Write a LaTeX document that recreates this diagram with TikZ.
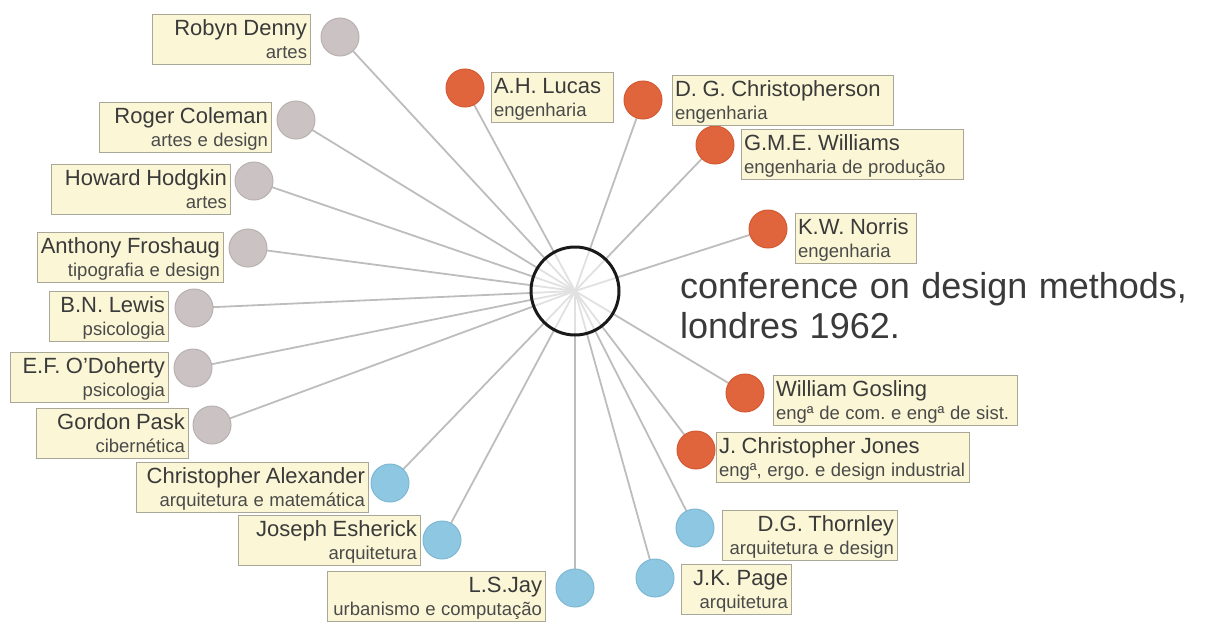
\documentclass[tikz,border=0pt]{standalone}
\usepackage{fontspec}
\setmainfont{Liberation Sans}[WordSpace=1.15]
\usetikzlibrary{backgrounds}

\definecolor{ink}{HTML}{3A3A3A}
\definecolor{subink}{HTML}{4A4A4A}
\definecolor{boxfill}{HTML}{FBF7D6}
\definecolor{boxedge}{HTML}{A9A797}
\definecolor{spokegray}{HTML}{BDBDBD}
\definecolor{artsgray}{HTML}{CBC3C3}
\definecolor{artsedge}{HTML}{B9B1B1}
\definecolor{archblue}{HTML}{8EC7E1}
\definecolor{archedge}{HTML}{7FB8D3}
\definecolor{engorange}{HTML}{E0653D}
\definecolor{engedge}{HTML}{D45A33}

% name on the first line, field of work below it (rigid word spaces, no breaks)
\newcommand\who[2]{\spaceskip=.3em\xspaceskip=.3em\frenchspacing
  \mbox{\fontsize{22}{23}\selectfont #1}\\\mbox{\color{subink}#2}}

\tikzset{
  persondot/.style={circle, minimum size=38pt, inner sep=0pt, line width=1pt},
  arts/.style={persondot, fill=artsgray, draw=artsedge},
  arch/.style={persondot, fill=archblue, draw=archedge},
  eng/.style={persondot, fill=engorange, draw=engedge},
  namebox/.style={draw=boxedge, fill=boxfill, line width=0.9pt, inner xsep=3pt,
    inner ysep=3.5pt, text height=17.5pt, text depth=25.5pt, anchor=north west,
    text=ink, outer sep=0pt, font=\fontsize{18.5}{23}\selectfont},
  rbox/.style={namebox, align=right},
  lbox/.style={namebox, align=left},
  spoke/.style={draw=spokegray, line width=1.8pt},
  hub/.style={circle, minimum size=88pt, inner sep=0pt, draw=black!90, line width=3pt,
    fill=white, fill opacity=0.55}
}

\begin{document}
\begin{tikzpicture}[x=1pt, y=-1pt]
\useasboundingbox (0,0) rectangle (1209,621);

% central event
\node[hub] (hub) at (575,291) {};
\node[anchor=north west, inner sep=0pt, align=left, text=ink, text height=66pt,
  text depth=1pt, font=\fontsize{36}{40}\selectfont] (title) at (680,272)
  {conference on design methods,\\londres 1962.};

% participants: arts, design and psychology
\node[arts] (denny) at (340,37) {};
\node[rbox, text width=152pt] (denny-l) at (152,14) {\who{Robyn Denny}{artes}};
\node[arts] (coleman) at (296,120) {};
\node[rbox, text width=166pt] (coleman-l) at (99,102) {\who{Roger Coleman}{artes e design}};
\node[arts] (hodgkin) at (254,181) {};
\node[rbox, text width=173pt] (hodgkin-l) at (51,164) {\who{Howard Hodgkin}{artes}};
\node[arts] (froshaug) at (248,248) {};
\node[rbox, text width=180pt] (froshaug-l) at (37,232) {\who{Anthony Froshaug}{tipografia e design}};
\node[arts] (lewis) at (194,308) {};
\node[rbox, text width=113pt] (lewis-l) at (49,291) {\who{B.N. Lewis}{psicologia}};
\node[arts] (odoherty) at (193,368) {};
\node[rbox, text width=152pt] (odoherty-l) at (10,352) {\who{E.F. O’Doherty}{psicologia}};
\node[arts] (pask) at (212,425) {};
\node[rbox, text width=146pt] (pask-l) at (36,408) {\who{Gordon Pask}{cibernética}};

% participants: architecture
\node[arch] (alexander) at (390,483) {};
\node[rbox, text width=226pt] (alexander-l) at (136,462) {\who{Christopher Alexander}{arquitetura e matemática}};
\node[arch] (esherick) at (442,540) {};
\node[rbox, text width=176pt] (esherick-l) at (238,515) {\who{Joseph Esherick}{arquitetura}};
\node[arch] (jay) at (575,588) {};
\node[rbox, text width=212pt] (jay-l) at (327,571) {\who{L.S.Jay}{urbanismo e computação}};
\node[arch] (page) at (655,578) {};
\node[rbox, text width=104pt] (page-l) at (681,564) {\who{J.K. Page}{arquitetura}};
\node[arch] (thornley) at (695,528) {};
\node[rbox, text width=169pt] (thornley-l) at (722,510) {\who{D.G. Thornley}{arquitetura e design}};

% participants: engineering
\node[eng] (jones) at (696,450) {};
\node[lbox, text width=247pt] (jones-l) at (716,432) {\who{J. Christopher Jones}{engª, ergo. e design industrial}};
\node[eng] (gosling) at (745,393) {};
\node[lbox, text width=238pt] (gosling-l) at (773,375) {\who{William Gosling}{engª de com. e engª de sist.}};
\node[eng] (norris) at (768,229) {};
\node[lbox, text width=115pt] (norris-l) at (795,213) {\who{K.W. Norris}{engenharia}};
\node[eng] (williams) at (715,145) {};
\node[lbox, text width=216pt] (williams-l) at (741,129) {\who{G.M.E. Williams}{engenharia de produção}};
\node[eng] (christopherson) at (643,100) {};
\node[lbox, text width=215pt] (christopherson-l) at (672,75) {\who{D. G. Christopherson}{engenharia}};
\node[eng] (lucas) at (465,88) {};
\node[lbox, text width=116pt] (lucas-l) at (491,72) {\who{A.H. Lucas}{engenharia}};

% spokes from each participant to the conference
\begin{pgfonlayer}{background}
  \foreach \p in {denny,coleman,hodgkin,froshaug,lewis,odoherty,pask,
                  alexander,esherick,jay,page,thornley,
                  jones,gosling,norris,williams,christopherson,lucas}
    \draw[spoke] (\p.center) -- (hub.center);
\end{pgfonlayer}
\end{tikzpicture}
\end{document}
